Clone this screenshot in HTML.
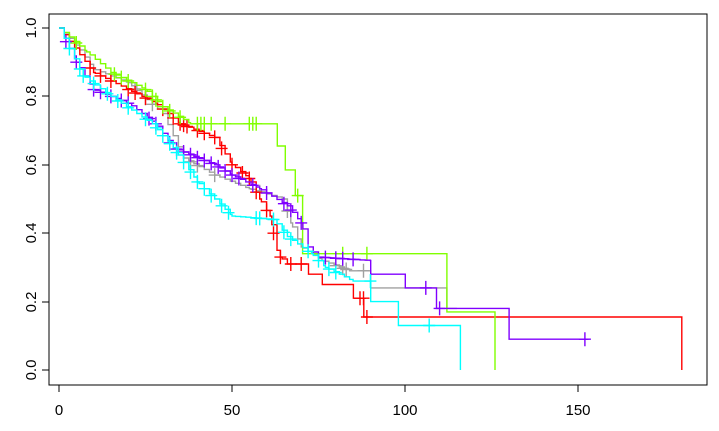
<!DOCTYPE html>
<html><head><meta charset="utf-8"><style>
body{margin:0;background:#fff;}
svg{display:block;font-family:"Liberation Sans",Arial,sans-serif;}
</style></head><body>
<svg id="s" width="719" height="431" xmlns="http://www.w3.org/2000/svg">
<rect x="49" y="14" width="658" height="371" fill="none" stroke="#000" stroke-width="1"/>
<g stroke="#000" stroke-width="1">
<line x1="59" y1="385" x2="578" y2="385"/>
<line x1="59" y1="385" x2="59" y2="392"/><line x1="232" y1="385" x2="232" y2="392"/>
<line x1="405" y1="385" x2="405" y2="392"/><line x1="578" y1="385" x2="578" y2="392"/>
<line x1="49" y1="28" x2="49" y2="370"/>
<line x1="42" y1="370" x2="49" y2="370"/><line x1="42" y1="302" x2="49" y2="302"/>
<line x1="42" y1="233" x2="49" y2="233"/><line x1="42" y1="165" x2="49" y2="165"/>
<line x1="42" y1="96" x2="49" y2="96"/><line x1="42" y1="28" x2="49" y2="28"/>
</g>
<g font-size="15" text-anchor="middle" fill="#000">
<text x="59" y="415">0</text><text x="232" y="415">50</text><text x="405" y="415">100</text><text x="578" y="415">150</text>
<text transform="translate(36,370) rotate(-90)">0.0</text>
<text transform="translate(36,302) rotate(-90)">0.2</text>
<text transform="translate(36,233) rotate(-90)">0.4</text>
<text transform="translate(36,165) rotate(-90)">0.6</text>
<text transform="translate(36,96) rotate(-90)">0.8</text>
<text transform="translate(36,28) rotate(-90)">1.0</text>
</g>
<g id="curves" fill="none" stroke-width="1.4"></g>
</svg>
<script>
function X(t){return 59+3.46*t;}
function Y(s){return 370-342*s;}
var series=[
{c:"#a0a0a0",k:[[0,1],[5,0.95],[10,0.88],[20,0.84],[30,0.75],[36,0.62],[45,0.57],[55,0.53],[65,0.5],[67,0.43],[70,0.36],[76,0.32],[84,0.29],[90,0.29],[90.1,0.24],[112,0.24],[112.1,0.18],[115,0.18]],end:null,cen:[22,25,27,38,40,45,58,66,80,82,83,88]},
{c:"#ff0000",k:[[0,1],[10,0.87],[18,0.83],[28,0.78],[35,0.72],[45,0.68],[50,0.6],[55,0.56],[58,0.5],[61,0.45],[63,0.35],[64,0.33],[66,0.31],[72,0.31],[72.1,0.28],[76,0.28],[76.1,0.25],[85,0.25],[85.1,0.21],[88,0.21],[88.1,0.155],[180,0.155]],end:180,cen:[9,12,15,20,22,25,30,33,35,36,37,40,42,45,47,50,53,55,57,60,62,64,67,70,87,88,89]},
{c:"#80ff00",k:[[0,1],[8,0.93],[15,0.87],[25,0.82],[30,0.77],[38,0.72],[63,0.72],[63.1,0.655],[65.3,0.655],[65.4,0.585],[68.2,0.585],[68.3,0.51],[70.3,0.51],[70.4,0.34],[112,0.34],[112.1,0.17],[126,0.17]],end:126,cen:[5,16,18,20,25,27,28,30,32,35,40,41,42,44,48,55,56,57,69,82,89]},
{c:"#8000ff",k:[[0,1],[5,0.9],[10,0.82],[20,0.78],[28,0.72],[33,0.65],[45,0.6],[50,0.57],[58,0.53],[66,0.48],[70,0.43],[72,0.36],[75,0.33],[90,0.32],[90.1,0.28],[100,0.28],[100.1,0.24],[109,0.24],[109.1,0.18],[130,0.18],[130.1,0.09],[153,0.09]],end:null,cen:[2,5,10,12,15,18,20,26,28,32,34,36,38,40,42,44,46,48,50,52,56,60,65,67,70,77,80,82,85,106,110,152]},
{c:"#00ffff",k:[[0,1],[7,0.86],[15,0.8],[27,0.72],[33,0.65],[40,0.55],[45,0.5],[50,0.45],[62,0.44],[66,0.39],[73,0.34],[77,0.3],[85,0.26],[90,0.26],[90.1,0.2],[98,0.2],[98.1,0.13],[116,0.13]],end:116,cen:[3,6,7,10,14,17,20,25,28,30,32,34,36,38,40,42,44,47,49,57,58,62,65,67,72,75,78,80,90,107]}
];
function val(k,t){for(var i=k.length-1;i>=0;i--){if(t>=k[i][0]){if(i==k.length-1)return k[i][1];var a=k[i],b=k[i+1];if(b[0]-a[0]<0.5)return a[1];return a[1]+(b[1]-a[1])*(t-a[0])/(b[0]-a[0]);}}return 1;}
var g=document.getElementById("curves"),h="";
series.forEach(function(S){
 var k=S.k,tmax=k[k.length-1][0],pts=[],s=1;pts.push([X(0),Y(1)]);
 var ts=[];for(var x=0;x<=tmax;x+=1.5)ts.push(x);k.forEach(function(p){ts.push(p[0]);});ts.sort(function(a,b){return a-b;});
 ts.forEach(function(x){var v=val(k,x);if(Math.abs(v-s)>0.0005){pts.push([X(x),Y(s)]);pts.push([X(x),Y(v)]);s=v;}});
 pts.push([X(tmax),Y(s)]);
 if(S.end){pts.push([X(S.end),Y(0)]);}
 h+='<polyline stroke="'+S.c+'" points="'+pts.map(function(p){return p[0].toFixed(1)+","+p[1].toFixed(1);}).join(" ")+'"/>';
 S.cen.forEach(function(c){var v=val(k,c);var sx=X(c),sy=Y(v);h+='<path stroke="'+S.c+'" d="M'+sx.toFixed(1)+' '+(sy-7).toFixed(1)+'V'+(sy+7).toFixed(1)+'M'+(sx-6).toFixed(1)+' '+sy.toFixed(1)+'H'+(sx+6).toFixed(1)+'"/>';});
});
g.innerHTML=h;
</script>
</body></html>
